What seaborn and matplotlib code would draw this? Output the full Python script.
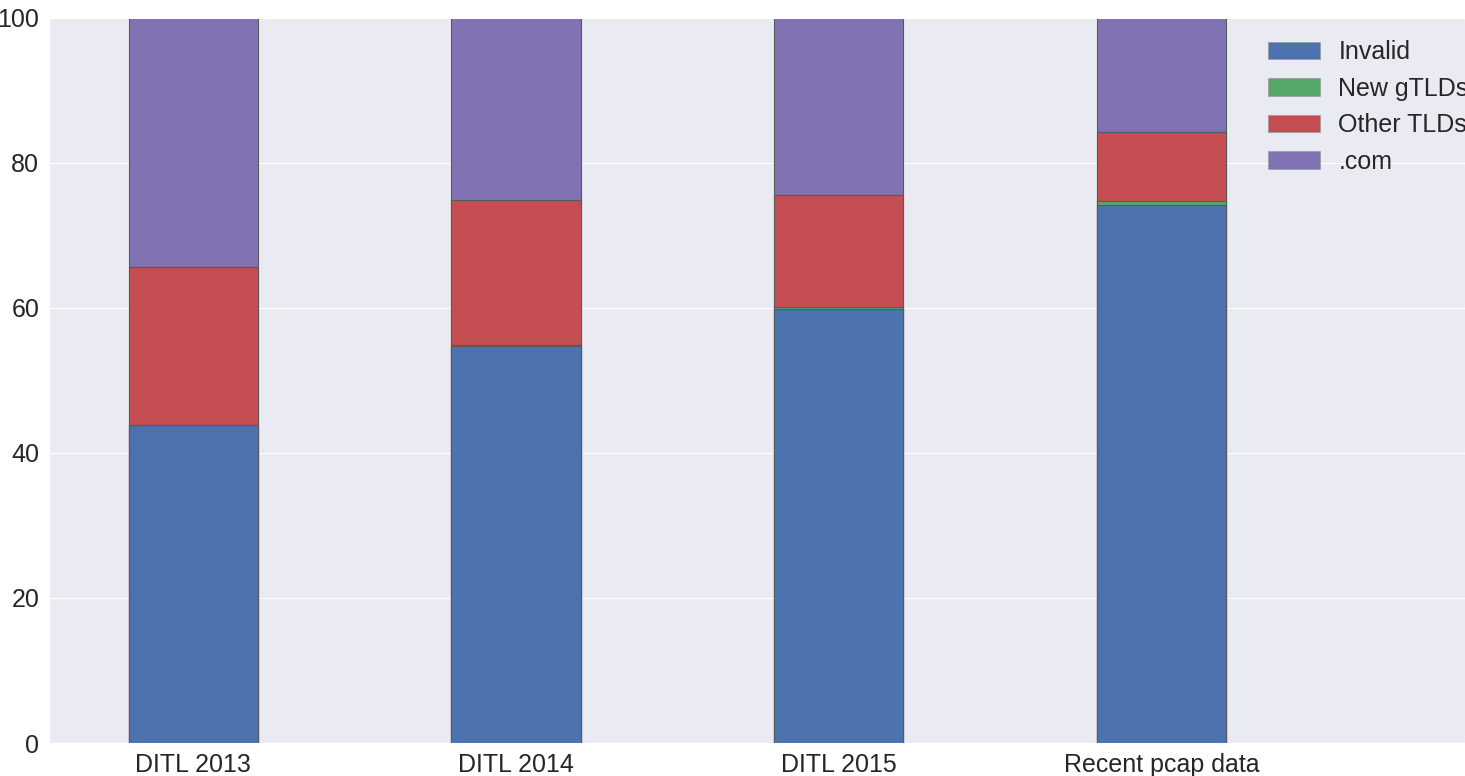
import numpy as np
import pandas as pd
import matplotlib
matplotlib.use("Agg")
import matplotlib.pyplot as plt
import seaborn as sns
from matplotlib.patches import Patch

# values (percent of queries)
datasets = ["DITL 2013", "DITL 2014", "DITL 2015", "Recent pcap data"]
invalid = [43.8, 54.8, 59.8, 74.2]
new_gtlds = [0.05, 0.05, 0.3, 0.6]
other_tlds = [21.8, 20.0, 15.5, 9.5]
dot_com = [34.35, 25.15, 24.4, 15.7]
series_names = ["Invalid", "New gTLDs", "Other TLDs", ".com"]

sns.set_style("darkgrid")
plt.rcParams['font.family'] = ['Liberation Sans', 'DejaVu Sans']
colors = sns.color_palette("deep6")[:4]

df = pd.DataFrame({"dataset": datasets, "Invalid": invalid, "New gTLDs": new_gtlds,
                   "Other TLDs": other_tlds, ".com": dot_com})
cum = df[series_names].cumsum(axis=1)

fig = plt.figure(figsize=(14.65, 7.76), dpi=100)
ax = fig.add_axes([0.0334, 0.0425, 0.9666, 0.9345])

# draw cumulative tops back to front so each layer shows as a stacked segment
for name, c in reversed(list(zip(series_names, colors))):
    sns.barplot(x=df["dataset"], y=cum[name], color=c, width=0.4, saturation=1,
                edgecolor="0.35", linewidth=0.8, ax=ax)

ax.set_xlim(-0.447, 3.94)
ax.set_ylim(0, 100)
ax.set_yticks([0, 20, 40, 60, 80, 100])
ax.set_xlabel("")
ax.set_ylabel("")
ax.tick_params(axis="both", labelsize=18, pad=3.5)

# legend runs past the right edge, as in the reference
handles = [Patch(facecolor=c, edgecolor="0.6", linewidth=0.5) for c in colors]
ax.legend(handles, series_names, loc="upper left", bbox_to_anchor=(0.854, 0.983),
          frameon=False, fontsize=18, handlelength=2.05, handleheight=0.72,
          labelspacing=0.5, handletextpad=0.75, borderaxespad=0)

fig.savefig("out.png", dpi=100)
